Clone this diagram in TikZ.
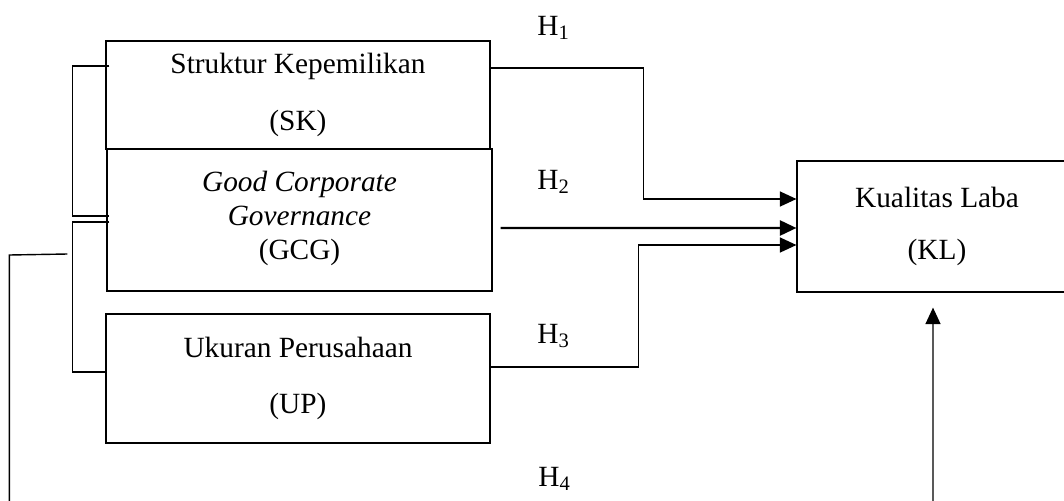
\documentclass[tikz,border=0pt]{standalone}
\usepackage{fontspec}
\setmainfont{Liberation Serif}
\usetikzlibrary{arrows.meta, calc}

\begin{document}
\begin{tikzpicture}[x=0.02cm, y=-0.02cm,
    box/.style={draw, line width=0.7pt, minimum width=7.68cm, align=center,
        inner sep=0pt, font=\fontsize{16.7}{19.3}\selectfont},
    hlabel/.style={anchor=west, inner sep=0pt, font=\fontsize{16.7}{19.3}\selectfont},
    link/.style={line width=0.8pt},
    arrow/.style={link, -{Triangle[length=0.33cm, width=0.3cm]}}]
    \useasboundingbox (0,0) rectangle (1064,500);
    \clip (0,0) rectangle (1064,500);

    % The independent variables
    \node[box, minimum height=2.16cm] (sk) at (298,95) {Struktur Kepemilikan\\[13pt](SK)};
    \node[box, minimum width=7.7cm, minimum height=2.84cm] (gcg) at (299.5,220)
        {\textit{Good Corporate}\\\textit{Governance}\\(GCG)\\[-14pt]};
    \node[box, minimum height=2.58cm] (up) at (298,378.5) {Ukuran Perusahaan\\[13pt](UP)};

    % The dependent variable
    \node[box, minimum width=5.6cm, minimum height=2.62cm] (kl) at (937,226.5)
        {Kualitas Laba\\[10pt](KL)};

    % Hypotheses
    \node[hlabel] (h1) at (537,28) {H\textsubscript{1}};
    \node[hlabel] (h2) at (537,182) {H\textsubscript{2}};
    \node[hlabel] (h3) at (537,336) {H\textsubscript{3}};
    \node[hlabel] (h4) at (538,479) {H\textsubscript{4}};

    % Paths into KL
    \draw[arrow] ($(sk.east)+(0,-27)$) -| ($(kl.west)+(-153,-27.5)$) -- ($(kl.west)+(0,-27.5)$);
    \draw[arrow, line width=1.4pt] ($(gcg.east)+(8,8)$) -- ($(kl.west)+(0,1.5)$);
    \draw[arrow] ($(up.east)+(0,-11.5)$) -| ($(kl.west)+(-158,18.5)$) -- ($(kl.west)+(0,18.5)$);

    % Brackets joining the independent variables
    \draw[link] ($(sk.west)+(4,-29)$) -- ++(-37,0) |- ($(gcg.west)+(3,-4)$);
    \draw[link] ($(gcg.west)+(3,2)$) -- ++(-37,0) |- ($(up.west)+(0,-6.5)$);

    % Joint path (H4), runs below the frame
    \draw[arrow] ($(gcg.west)+(-39,34)$) -- ++(-58,1) |- ($(kl.south)+(-4,214)$) -- ($(kl.south)+(-4,15)$);
\end{tikzpicture}
\end{document}
